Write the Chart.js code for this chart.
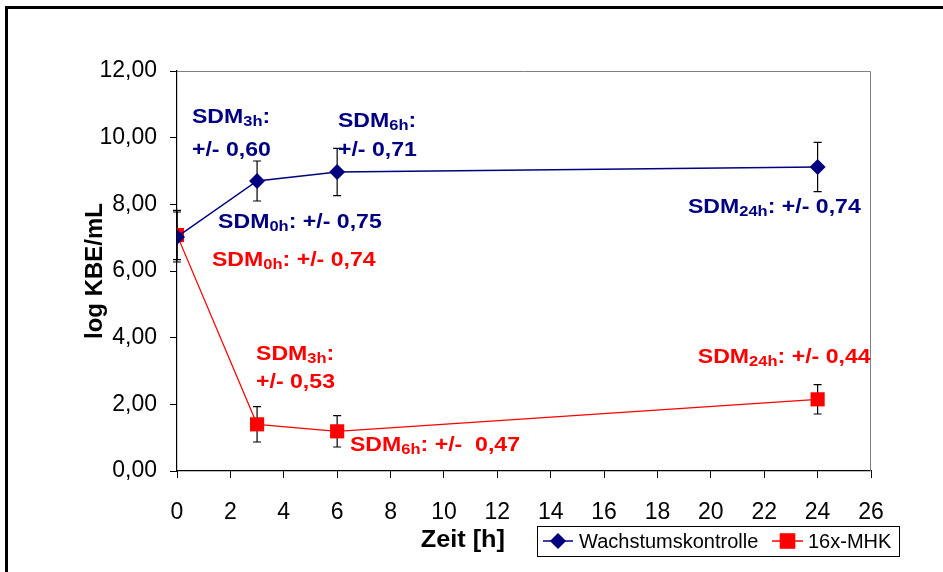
<!DOCTYPE html>
<html>
<head>
<meta charset="utf-8">
<script src="https://cdn.jsdelivr.net/npm/chart.js@4.4.1/dist/chart.umd.min.js"></script>
<style>
	html, body { margin:0; padding:0; background:#fff; }
	#wrap { width:943px; height:572px; position:relative; }
</style>
</head>
<body>
<div id="wrap"><canvas id="chart" width="943" height="572"></canvas></div>
<script>
// Keimzahlverlauf: Wachstumskontrolle vs. 16x-MHK
const hours = [0, 3, 6, 24];
const kontrolle = [7.02, 8.70, 8.97, 9.12];
const mhk = [7.08, 1.40, 1.19, 2.15];
const kontrolleSdm = [0.75, 0.60, 0.71, 0.74];
const mhkSdm = [0.74, 0.53, 0.47, 0.44];
const seriesNames = ['Wachstumskontrolle', '16x-MHK'];
const seriesColors = ['#000080', '#ff0000'];

// SDM labels, anchored in data units (x = h, y = log KBE/mL), each line is [main, sub, rest]
const sdmLabels = [
	{ c:0, x:0.56, y:10.62, parts:['SDM','3h',':'] },
	{ c:0, x:0.56, y:9.63, parts:['+/- 0,60','',''] },
	{ c:0, x:6.03, y:10.50, parts:['SDM','6h',':'] },
	{ c:0, x:6.03, y:9.63, parts:['+/- 0,71','',''] },
	{ c:0, x:1.54, y:7.47, parts:['SDM','0h',': +/- 0,75'] },
	{ c:0, x:19.14, y:7.92, parts:['SDM','24h',': +/- 0,74'] },
	{ c:1, x:1.31, y:6.33, parts:['SDM','0h',': +/- 0,74'] },
	{ c:1, x:2.96, y:3.51, parts:['SDM','3h',':'] },
	{ c:1, x:2.96, y:2.67, parts:['+/- 0,53','',''] },
	{ c:1, x:6.48, y:0.78, parts:['SDM','6h',': +/-  0,47'] },
	{ c:1, x:19.51, y:3.42, parts:['SDM','24h',': +/- 0,44'] }
];

const FONT = 'Liberation Sans, Arial, sans-serif';

function fmt(v){ return v.toFixed(2).replace('.', ','); }

// error bars drawn beneath the markers
const errorBars = {
	id:'errorBars',
	beforeDatasetsDraw(chart){
		const ctx = chart.ctx, ys = chart.scales.y;
		const errs = [kontrolleSdm, mhkSdm];
		ctx.save();
		ctx.strokeStyle = '#000'; ctx.lineWidth = 1.2;
		chart.data.datasets.forEach((ds, di)=>{
			const meta = chart.getDatasetMeta(di);
			meta.data.forEach((pt, i)=>{
				const v = ds.data[i].y, e = errs[di][i];
				const yTop = ys.getPixelForValue(v + e), yBot = ys.getPixelForValue(v - e);
				ctx.beginPath();
				ctx.moveTo(pt.x, yTop); ctx.lineTo(pt.x, yBot);
				ctx.moveTo(pt.x-4, yTop); ctx.lineTo(pt.x+4, yTop);
				ctx.moveTo(pt.x-4, yBot); ctx.lineTo(pt.x+4, yBot);
				ctx.stroke();
			});
		});
		ctx.restore();
	}
};

// text in the original is a little wider than Arial, stretch it horizontally
function drawRich(ctx, x, y, parts, color){
	ctx.save();
	ctx.translate(x, y);
	ctx.scale(1.1, 1);
	ctx.fillStyle = color;
	ctx.textBaseline = 'middle';
	ctx.textAlign = 'left';
	let cx = 0;
	ctx.font = 'bold 21px ' + FONT;
	ctx.fillText(parts[0], cx, 0);
	cx += ctx.measureText(parts[0]).width;
	if (parts[1]){
		ctx.font = 'bold 15px ' + FONT;
		ctx.fillText(parts[1], cx, 5);
		cx += ctx.measureText(parts[1]).width;
	}
	if (parts[2]){
		ctx.font = 'bold 21px ' + FONT;
		ctx.fillText(parts[2], cx, 0);
	}
	ctx.restore();
}

const decorations = {
	id:'decorations',
	afterDraw(chart){
		const ctx = chart.ctx, a = chart.chartArea;
		const xs = chart.scales.x, ys = chart.scales.y;
		ctx.save();
		// plot area border (top/right)
		ctx.strokeStyle = '#808080'; ctx.lineWidth = 1;
		ctx.beginPath();
		ctx.moveTo(a.left, a.top+0.5); ctx.lineTo(a.right-0.5, a.top+0.5); ctx.lineTo(a.right-0.5, a.bottom);
		ctx.stroke();
		// SDM labels
		sdmLabels.forEach(l=>{
			drawRich(ctx, xs.getPixelForValue(l.x), ys.getPixelForValue(l.y), l.parts, seriesColors[l.c]);
		});
		// x axis title
		ctx.save();
		ctx.translate(505, 541); ctx.scale(1.1, 1);
		ctx.fillStyle = '#000'; ctx.font = 'bold 23px ' + FONT;
		ctx.textAlign = 'right'; ctx.textBaseline = 'middle';
		ctx.fillText('Zeit [h]', 0, 0);
		ctx.restore();
		// legend
		const lx = 537, ly = 526, lw = 362, lh = 30, cy = ly + lh/2;
		ctx.strokeStyle = '#000'; ctx.lineWidth = 1;
		ctx.strokeRect(lx+0.5, ly+0.5, lw, lh);
		ctx.font = '20px ' + FONT; ctx.textAlign = 'left'; ctx.textBaseline = 'middle';
		const items = [
			{ x0:543, x1:573, text:'Wachstumskontrolle', tx:579, style:'rectRot', r:7 },
			{ x0:772, x1:803, text:'16x-MHK', tx:808, style:'rect', r:10 }
		];
		items.forEach((it, i)=>{
			ctx.strokeStyle = seriesColors[i]; ctx.lineWidth = 1.5;
			ctx.beginPath(); ctx.moveTo(it.x0, cy); ctx.lineTo(it.x1, cy); ctx.stroke();
			ctx.fillStyle = seriesColors[i];
			Chart.helpers.drawPoint(ctx, { pointStyle:it.style, radius:it.r, borderWidth:1 }, (it.x0+it.x1)/2, cy);
			ctx.fill();
			ctx.fillStyle = '#000';
			ctx.fillText(it.text, it.tx, cy+1);
		});
		// outer frame
		ctx.strokeStyle = '#000'; ctx.lineWidth = 3;
		ctx.beginPath();
		ctx.moveTo(6.5, chart.height); ctx.lineTo(6.5, 7.5); ctx.lineTo(chart.width, 7.5);
		ctx.stroke();
		ctx.restore();
	}
};

new Chart(document.getElementById('chart'), {
	type:'line',
	data:{
		datasets:[
			{
				label:seriesNames[0],
				data:hours.map((h,i)=>({ x:h, y:kontrolle[i] })),
				borderColor:seriesColors[0], backgroundColor:seriesColors[0],
				borderWidth:1.5, pointStyle:'rectRot', pointRadius:8, pointBorderWidth:0,
				tension:0
			},
			{
				label:seriesNames[1],
				data:hours.map((h,i)=>({ x:h, y:mhk[i] })),
				borderColor:seriesColors[1], backgroundColor:seriesColors[1],
				borderWidth:1.2, pointStyle:'rect', pointRadius:10, pointBorderWidth:0,
				tension:0
			}
		]
	},
	options:{
		responsive:false, animation:false,
		layout:{ padding:{ left:77, top:71, right:72, bottom:0 } },
		plugins:{ legend:{ display:false }, tooltip:{ enabled:false } },
		scales:{
			x:{
				type:'linear', min:0, max:26,
				afterFit(s){ s.height = 101; },
				ticks:{ stepSize:2, color:'#000', font:{ family:FONT, size:23 }, padding:21, maxRotation:0 },
				grid:{ drawOnChartArea:false, color:'#000', tickLength:7, tickColor:'#000' },
				border:{ color:'#000', width:1.2 }
			},
			y:{
				min:0, max:12,
				afterFit(s){ s.width = 100; },
				ticks:{ stepSize:2, color:'#000', font:{ family:FONT, size:23 }, padding:13, callback:v=>fmt(v) },
				grid:{ drawOnChartArea:false, tickLength:7, tickColor:'#000' },
				border:{ color:'#000', width:1.2 },
				title:{ display:true, text:'log KBE/mL', color:'#000', font:{ family:FONT, size:24, weight:'bold' }, padding:{ top:4, bottom:4 } }
			}
		}
	},
	plugins:[errorBars, decorations]
});
</script>
</body>
</html>
